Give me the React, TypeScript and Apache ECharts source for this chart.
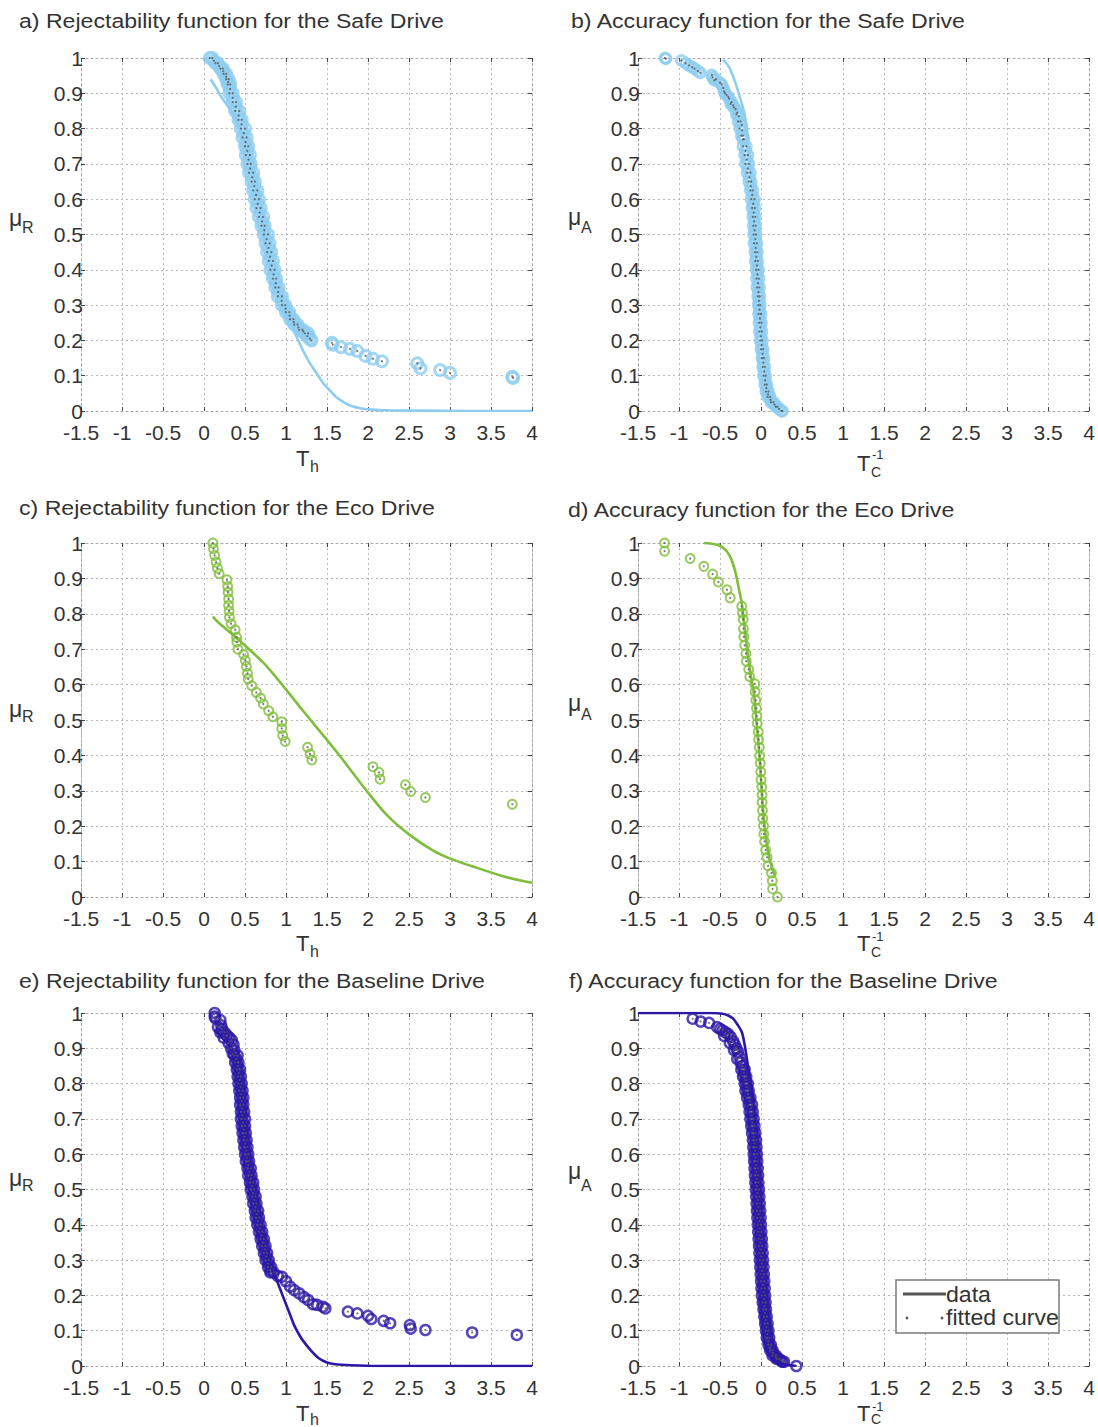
import React, { useEffect, useRef } from "react";
import * as echarts from "echarts";

// ---- axis ranges (shared by every panel) ----
const X_MIN = -1.5;
const X_MAX = 4;
const X_STEP = 0.5;
const Y_MIN = 0;
const Y_MAX = 1;
const Y_STEP = 0.1;

// ---- panel titles ----
const panelTitles = [
  "a) Rejectability function for the Safe Drive",
  "b) Accuracy function for the Safe Drive",
  "c) Rejectability function for the Eco Drive",
  "d) Accuracy function for the Eco Drive",
  "e) Rejectability function for the Baseline Drive",
  "f) Accuracy function for the Baseline Drive",
];

const legendLabels = ["data", "fitted curve"];

// ---- Safe Drive ----
const safeRejectPoints: number[][] = [
  [0.07, 1.0], [0.1, 1.0], [0.14, 0.985], [0.17, 0.985], [0.2, 0.97], [0.23, 0.97],
  [0.24, 0.955], [0.27, 0.955], [0.27, 0.94], [0.3, 0.94], [0.29, 0.925], [0.32, 0.925],
  [0.31, 0.9], [0.35, 0.9], [0.35, 0.875], [0.39, 0.875], [0.38, 0.85], [0.43, 0.85],
  [0.42, 0.825], [0.46, 0.825], [0.45, 0.8], [0.5, 0.8], [0.47, 0.775], [0.52, 0.775],
  [0.5, 0.75], [0.54, 0.75], [0.51, 0.725], [0.56, 0.725], [0.53, 0.7], [0.57, 0.7],
  [0.55, 0.675], [0.6, 0.675], [0.58, 0.65], [0.62, 0.65], [0.6, 0.625], [0.65, 0.625],
  [0.62, 0.6], [0.67, 0.6], [0.64, 0.575], [0.69, 0.575], [0.67, 0.55], [0.72, 0.55],
  [0.7, 0.525], [0.74, 0.525], [0.73, 0.5], [0.78, 0.5], [0.75, 0.475], [0.8, 0.475],
  [0.77, 0.45], [0.82, 0.45], [0.79, 0.425], [0.84, 0.425], [0.81, 0.4], [0.86, 0.4],
  [0.84, 0.375], [0.88, 0.375], [0.87, 0.35], [0.91, 0.35], [0.9, 0.325], [0.95, 0.325],
  [0.95, 0.3], [0.99, 0.3], [1.0, 0.28], [1.04, 0.28], [1.05, 0.26], [1.09, 0.26],
  [1.1, 0.245], [1.14, 0.245], [1.16, 0.23], [1.2, 0.23], [1.23, 0.22], [1.27, 0.22],
  [1.29, 0.205], [1.31, 0.2],
  [0.12, 0.992], [0.185, 0.977], [0.235, 0.962], [0.27, 0.947], [0.295, 0.932], [0.318, 0.912],
  [0.35, 0.887], [0.388, 0.862], [0.423, 0.837], [0.458, 0.812], [0.485, 0.787], [0.507, 0.762],
  [0.527, 0.737], [0.543, 0.712], [0.563, 0.687], [0.588, 0.662], [0.612, 0.637], [0.635, 0.612],
  [0.655, 0.587], [0.68, 0.562], [0.708, 0.537], [0.735, 0.512], [0.765, 0.487], [0.785, 0.462],
  [0.805, 0.437], [0.825, 0.412], [0.848, 0.387], [0.875, 0.362], [0.905, 0.337], [0.948, 0.312],
  [0.995, 0.29], [1.045, 0.27], [1.095, 0.252], [1.15, 0.237], [1.21, 0.225], [1.26, 0.212],
  [1.56, 0.193], [1.57, 0.188], [1.67, 0.181], [1.78, 0.176], [1.87, 0.17], [1.97, 0.156],
  [2.06, 0.148], [2.17, 0.141], [2.6, 0.135], [2.64, 0.121], [2.88, 0.116], [3.0, 0.108],
  [3.76, 0.097], [3.77, 0.094],
];
const safeRejectCurve: number[][] = [
  [0.08, 0.94], [0.15, 0.915], [0.21, 0.89], [0.3, 0.86], [0.4, 0.82], [0.5, 0.76],
  [0.6, 0.66], [0.7, 0.55], [0.8, 0.43], [0.9, 0.34], [1.0, 0.28], [1.07, 0.25],
  [1.13, 0.21], [1.2, 0.175], [1.28, 0.14], [1.37, 0.108], [1.45, 0.08], [1.54, 0.057],
  [1.62, 0.038], [1.71, 0.024], [1.8, 0.014], [1.92, 0.007], [2.05, 0.004], [2.2, 0.002],
  [2.6, 0.001], [3.2, 0], [4.0, 0],
];
const safeAccuracyPoints: number[][] = [
  [-1.17, 1.0], [-1.16, 0.998], [-0.97, 0.993], [-0.92, 0.985], [-0.88, 0.979], [-0.84, 0.974],
  [-0.81, 0.97], [-0.77, 0.963], [-0.74, 0.958], [-0.6, 0.952], [-0.59, 0.945], [-0.57, 0.937],
  [-0.55, 0.94], [-0.5, 0.93], [-0.44, 0.9], [-0.4, 0.89], [-0.37, 0.87], [-0.33, 0.86],
  [-0.3, 0.84], [-0.28, 0.82], [-0.26, 0.8], [-0.24, 0.78], [-0.22, 0.77],
  [-0.48, 0.925], [-0.46, 0.915], [-0.45, 0.905], [-0.42, 0.895], [-0.39, 0.885], [-0.36, 0.875],
  [-0.34, 0.866], [-0.31, 0.855], [-0.29, 0.845], [-0.27, 0.835], [-0.25, 0.82], [-0.235, 0.81],
  [-0.23, 0.795], [-0.22, 0.78], [-0.21, 0.77],
  [-0.22, 0.75], [-0.18, 0.75], [-0.2, 0.725], [-0.16, 0.725], [-0.19, 0.7], [-0.15, 0.7],
  [-0.17, 0.675], [-0.13, 0.675], [-0.15, 0.65], [-0.12, 0.65], [-0.13, 0.625], [-0.1, 0.625],
  [-0.12, 0.6], [-0.08, 0.6], [-0.11, 0.575], [-0.075, 0.575], [-0.1, 0.55], [-0.07, 0.55],
  [-0.095, 0.525], [-0.065, 0.525], [-0.09, 0.5], [-0.06, 0.5], [-0.085, 0.475], [-0.05, 0.475],
  [-0.075, 0.45], [-0.045, 0.45], [-0.07, 0.425], [-0.04, 0.425], [-0.06, 0.4], [-0.03, 0.4],
  [-0.055, 0.375], [-0.025, 0.375], [-0.05, 0.35], [-0.02, 0.35], [-0.04, 0.325], [-0.015, 0.325],
  [-0.035, 0.3], [-0.01, 0.3], [-0.03, 0.275], [0.0, 0.275], [-0.025, 0.25], [0.005, 0.25],
  [-0.02, 0.225], [0.01, 0.225], [-0.01, 0.2], [0.015, 0.2], [0.0, 0.175], [0.025, 0.175],
  [0.01, 0.15], [0.035, 0.15], [0.02, 0.125], [0.045, 0.125], [0.03, 0.1], [0.055, 0.1],
  [0.045, 0.075], [0.07, 0.075], [0.06, 0.055], [0.09, 0.055], [0.08, 0.04], [0.11, 0.04],
  [0.12, 0.025], [0.15, 0.025], [0.18, 0.012], [0.2, 0.012], [0.25, 0.0], [0.26, 0.0],
  [-0.19, 0.737], [-0.175, 0.712], [-0.16, 0.687], [-0.142, 0.662], [-0.125, 0.637], [-0.108, 0.612],
  [-0.096, 0.587], [-0.089, 0.562], [-0.083, 0.537], [-0.078, 0.512], [-0.071, 0.487], [-0.064, 0.462],
  [-0.058, 0.437], [-0.05, 0.412], [-0.043, 0.387], [-0.038, 0.362], [-0.031, 0.337], [-0.025, 0.312],
  [-0.019, 0.287], [-0.013, 0.262], [-0.008, 0.237], [-0.001, 0.212], [0.008, 0.187], [0.018, 0.162],
  [0.028, 0.137], [0.038, 0.112], [0.05, 0.087], [0.066, 0.065], [0.085, 0.047], [0.115, 0.032],
  [0.165, 0.018], [0.22, 0.006],
];
const safeAccuracyCurve: number[][] = [
  [-0.47, 0.995], [-0.44, 0.99], [-0.38, 0.97], [-0.32, 0.935], [-0.26, 0.89], [-0.2, 0.84],
  [-0.16, 0.76], [-0.12, 0.66], [-0.09, 0.55], [-0.06, 0.44], [-0.03, 0.33], [0.0, 0.24],
  [0.03, 0.15], [0.06, 0.09], [0.1, 0.05], [0.15, 0.025], [0.2, 0.008], [0.25, 0],
];

// ---- Eco Drive ----
const ecoRejectPoints: number[][] = [
  [0.108, 1.0], [0.116, 0.984], [0.13, 0.965], [0.147, 0.946], [0.164, 0.929], [0.185, 0.913],
  [0.28, 0.896], [0.289, 0.877], [0.293, 0.861], [0.3, 0.842], [0.3, 0.824], [0.306, 0.808],
  [0.31, 0.79], [0.33, 0.772], [0.38, 0.755], [0.397, 0.734], [0.4, 0.72], [0.414, 0.7],
  [0.483, 0.685], [0.504, 0.668], [0.517, 0.651], [0.53, 0.632], [0.539, 0.616], [0.582, 0.597],
  [0.638, 0.578], [0.69, 0.562], [0.724, 0.545], [0.789, 0.526], [0.84, 0.509], [0.948, 0.495],
  [0.948, 0.476], [0.96, 0.456], [0.99, 0.439], [1.263, 0.423], [1.293, 0.404], [1.315, 0.387],
  [2.06, 0.368], [2.134, 0.352], [2.147, 0.333], [2.457, 0.317], [2.52, 0.298], [2.7, 0.281],
  [3.76, 0.262],
];
const ecoRejectCurve: number[][] = [
  [0.108, 0.792], [0.172, 0.776], [0.43, 0.725], [0.776, 0.649], [1.207, 0.526], [1.638, 0.404],
  [1.983, 0.3], [2.24, 0.229], [2.5, 0.177], [2.8, 0.13], [3.017, 0.107], [3.32, 0.083],
  [3.7, 0.055], [4.0, 0.04],
];
const ecoAccuracyPoints: number[][] = [
  [-1.176, 1.0], [-1.176, 0.977], [-0.864, 0.956], [-0.697, 0.934], [-0.59, 0.912], [-0.52, 0.89],
  [-0.415, 0.868], [-0.376, 0.845], [-0.235, 0.821], [-0.227, 0.802], [-0.218, 0.784], [-0.214, 0.758],
  [-0.21, 0.735], [-0.2, 0.711], [-0.184, 0.688], [-0.18, 0.666], [-0.15, 0.643], [-0.137, 0.622],
  [-0.077, 0.602], [-0.073, 0.58], [-0.064, 0.556], [-0.056, 0.533], [-0.051, 0.511], [-0.047, 0.49],
  [-0.034, 0.467], [-0.03, 0.445], [-0.021, 0.422], [-0.017, 0.399], [-0.009, 0.378], [-0.004, 0.354],
  [0.0, 0.331], [0.009, 0.31], [0.013, 0.289], [0.013, 0.267], [0.017, 0.244], [0.021, 0.222],
  [0.03, 0.201], [0.034, 0.178], [0.043, 0.157], [0.056, 0.133], [0.073, 0.112], [0.086, 0.088],
  [0.128, 0.068], [0.137, 0.046], [0.141, 0.023], [0.2, 0.0],
];
const ecoAccuracyCurve: number[][] = [
  [-0.7, 1.0], [-0.6, 0.998], [-0.51, 0.993], [-0.44, 0.982], [-0.385, 0.965], [-0.34, 0.94],
  [-0.3, 0.905], [-0.27, 0.87], [-0.235, 0.83], [-0.2, 0.76], [-0.16, 0.68], [-0.12, 0.62],
  [-0.085, 0.57], [-0.05, 0.48], [-0.02, 0.4], [0.0, 0.331], [0.02, 0.26], [0.043, 0.2],
  [0.07, 0.15], [0.1, 0.11], [0.13, 0.085], [0.17, 0.06],
];

// ---- Baseline Drive ----
const baselineRejectPoints: number[][] = [
  [0.13, 1.0], [0.13, 0.99], [0.14, 0.985], [0.2, 0.98], [0.21, 0.965], [0.22, 0.955],
  [0.25, 0.945], [0.28, 0.937], [0.31, 0.93], [0.34, 0.923], [0.36, 0.91], [0.37, 0.895],
  [0.17, 0.96], [0.2, 0.945], [0.24, 0.93], [0.3, 0.915], [0.33, 0.9], [0.35, 0.885],
  [0.37, 0.88], [0.41, 0.88], [0.38, 0.86], [0.42, 0.86], [0.4, 0.84], [0.44, 0.84],
  [0.41, 0.82], [0.45, 0.82], [0.42, 0.8], [0.46, 0.8], [0.43, 0.78], [0.47, 0.78],
  [0.44, 0.76], [0.48, 0.76], [0.44, 0.74], [0.48, 0.74], [0.45, 0.72], [0.49, 0.72],
  [0.45, 0.7], [0.5, 0.7], [0.46, 0.68], [0.5, 0.68], [0.47, 0.66], [0.51, 0.66],
  [0.48, 0.64], [0.52, 0.64], [0.49, 0.62], [0.53, 0.62], [0.5, 0.6], [0.54, 0.6],
  [0.51, 0.58], [0.55, 0.58], [0.53, 0.56], [0.57, 0.56], [0.54, 0.54], [0.58, 0.54],
  [0.56, 0.52], [0.6, 0.52], [0.57, 0.5], [0.61, 0.5], [0.59, 0.48], [0.63, 0.48],
  [0.6, 0.46], [0.64, 0.46], [0.62, 0.44], [0.66, 0.44], [0.63, 0.42], [0.67, 0.42],
  [0.65, 0.4], [0.69, 0.4], [0.67, 0.38], [0.71, 0.38], [0.69, 0.36], [0.73, 0.36],
  [0.71, 0.34], [0.75, 0.34], [0.73, 0.32], [0.77, 0.32], [0.75, 0.3], [0.79, 0.3],
  [0.78, 0.28], [0.82, 0.28], [0.81, 0.265], [0.85, 0.265],
  [0.395, 0.87], [0.41, 0.85], [0.425, 0.83], [0.435, 0.81], [0.445, 0.79], [0.455, 0.77],
  [0.46, 0.75], [0.465, 0.73], [0.47, 0.71], [0.477, 0.69], [0.485, 0.67], [0.495, 0.65],
  [0.505, 0.63], [0.515, 0.61], [0.525, 0.59], [0.54, 0.57], [0.555, 0.55], [0.57, 0.53],
  [0.585, 0.51], [0.6, 0.49], [0.615, 0.47], [0.63, 0.45], [0.645, 0.43], [0.66, 0.41],
  [0.68, 0.39], [0.7, 0.37], [0.72, 0.35], [0.74, 0.33], [0.76, 0.31], [0.785, 0.29],
  [0.81, 0.272],
  [0.9, 0.255], [0.95, 0.253], [1.0, 0.24], [1.05, 0.225], [1.1, 0.215], [1.16, 0.206],
  [1.22, 0.195], [1.27, 0.187], [1.33, 0.175], [1.38, 0.173], [1.45, 0.168], [1.48, 0.163],
  [1.755, 0.154], [1.87, 0.149], [2.0, 0.142], [2.04, 0.133], [2.19, 0.128], [2.27, 0.121],
  [2.51, 0.116], [2.52, 0.106], [2.7, 0.102], [3.27, 0.095], [3.815, 0.088],
];
const baselineRejectCurve: number[][] = [
  [0.13, 0.951], [0.2, 0.935], [0.28, 0.915], [0.35, 0.89], [0.4, 0.85], [0.45, 0.78],
  [0.5, 0.66], [0.55, 0.57], [0.6, 0.5], [0.65, 0.43], [0.7, 0.37], [0.75, 0.32],
  [0.8, 0.285], [0.85, 0.26], [0.9, 0.235], [0.95, 0.205], [1.0, 0.175], [1.05, 0.145],
  [1.1, 0.115], [1.15, 0.093], [1.2, 0.074], [1.3, 0.045], [1.4, 0.022], [1.5, 0.01],
  [1.6, 0.005], [1.8, 0.002], [2.1, 0], [4.0, 0],
];
const baselineAccuracyPoints: number[][] = [
  [-0.834, 0.984], [-0.736, 0.976], [-0.633, 0.972], [-0.535, 0.96], [-0.5, 0.955], [-0.47, 0.951],
  [-0.43, 0.945], [-0.4, 0.94], [-0.37, 0.932], [-0.34, 0.92], [-0.32, 0.91], [-0.3, 0.9],
  [-0.28, 0.89], [-0.26, 0.875], [-0.25, 0.86], [-0.23, 0.85],
  [-0.45, 0.935], [-0.38, 0.915], [-0.33, 0.895], [-0.29, 0.87],
  [-0.24, 0.84], [-0.2, 0.84], [-0.22, 0.82], [-0.18, 0.82], [-0.2, 0.8], [-0.16, 0.8],
  [-0.19, 0.78], [-0.15, 0.78], [-0.17, 0.76], [-0.13, 0.76], [-0.15, 0.74], [-0.11, 0.74],
  [-0.14, 0.72], [-0.1, 0.72], [-0.13, 0.7], [-0.09, 0.7], [-0.12, 0.68], [-0.08, 0.68],
  [-0.11, 0.66], [-0.07, 0.66], [-0.1, 0.64], [-0.06, 0.64], [-0.095, 0.62], [-0.055, 0.62],
  [-0.09, 0.6], [-0.05, 0.6], [-0.085, 0.58], [-0.045, 0.58], [-0.08, 0.56], [-0.04, 0.56],
  [-0.075, 0.54], [-0.035, 0.54], [-0.07, 0.52], [-0.03, 0.52], [-0.065, 0.5], [-0.025, 0.5],
  [-0.06, 0.48], [-0.02, 0.48], [-0.055, 0.46], [-0.015, 0.46], [-0.05, 0.44], [-0.01, 0.44],
  [-0.045, 0.42], [-0.005, 0.42], [-0.04, 0.4], [0.0, 0.4], [-0.035, 0.38], [0.005, 0.38],
  [-0.03, 0.36], [0.01, 0.36], [-0.025, 0.34], [0.015, 0.34], [-0.02, 0.32], [0.02, 0.32],
  [-0.015, 0.3], [0.025, 0.3], [-0.01, 0.28], [0.03, 0.28], [-0.005, 0.26], [0.035, 0.26],
  [0.0, 0.24], [0.04, 0.24], [0.005, 0.22], [0.045, 0.22], [0.01, 0.2], [0.05, 0.2],
  [0.02, 0.18], [0.055, 0.18], [0.03, 0.16], [0.06, 0.16], [0.04, 0.14], [0.07, 0.14],
  [0.05, 0.12], [0.08, 0.12], [0.06, 0.1], [0.09, 0.1], [0.07, 0.08], [0.1, 0.08],
  [0.09, 0.06], [0.12, 0.06], [0.11, 0.045], [0.14, 0.045], [0.14, 0.03], [0.18, 0.03],
  [0.19, 0.02], [0.22, 0.02], [0.26, 0.012], [0.28, 0.012], [0.43, 0.0],
  [-0.21, 0.83], [-0.19, 0.81], [-0.175, 0.79], [-0.16, 0.77], [-0.14, 0.75], [-0.125, 0.73],
  [-0.115, 0.71], [-0.105, 0.69], [-0.095, 0.67], [-0.085, 0.65], [-0.078, 0.63], [-0.073, 0.61],
  [-0.068, 0.59], [-0.063, 0.57], [-0.058, 0.55], [-0.053, 0.53], [-0.048, 0.51], [-0.043, 0.49],
  [-0.038, 0.47], [-0.033, 0.45], [-0.028, 0.43], [-0.023, 0.41], [-0.018, 0.39], [-0.013, 0.37],
  [-0.008, 0.35], [-0.003, 0.33], [0.002, 0.31], [0.007, 0.29], [0.012, 0.27], [0.017, 0.25],
  [0.022, 0.23], [0.027, 0.21], [0.034, 0.19], [0.041, 0.17], [0.048, 0.15], [0.057, 0.13],
  [0.067, 0.11], [0.077, 0.09], [0.09, 0.07], [0.115, 0.052], [0.145, 0.037], [0.18, 0.025],
  [0.24, 0.016],
];
const baselineAccuracyCurve: number[][] = [
  [-1.5, 1.0], [-0.6, 1.0], [-0.47, 0.998], [-0.4, 0.993], [-0.34, 0.984], [-0.29, 0.968],
  [-0.235, 0.946], [-0.2, 0.91], [-0.17, 0.866], [-0.14, 0.82], [-0.107, 0.772], [-0.085, 0.7],
  [-0.064, 0.63], [-0.045, 0.55], [-0.034, 0.49], [-0.02, 0.4], [0.0, 0.3], [0.02, 0.22],
  [0.043, 0.16], [0.07, 0.11], [0.107, 0.066], [0.15, 0.035], [0.19, 0.019], [0.25, 0.008],
  [0.3, 0.004], [0.43, 0.0],
];

// ---- appearance ----
const SAFE_COLOR = "#8fcdf0";
const ECO_COLOR = "#7fbd3a";
const BASE_COLOR = "#2b18a8";
const FONT = "'Liberation Sans', Arial, sans-serif";
const TEXT_COLOR = "#333333";

// grid boxes: two columns, three rows
const COL_LEFT = [81, 638];
const COL_WIDTH = [451, 453];
const ROW_TOP = [58, 543, 1013];
const ROW_HEIGHT = [353, 354, 353];

// ring marker size / stroke per panel
const RING_SIZE = [11, 10, 9, 9, 10, 10];
const RING_STROKE = [3, 2.8, 2, 2, 2.5, 2.5];

const panels = [
  { points: safeRejectPoints, curve: safeRejectCurve, color: SAFE_COLOR },
  { points: safeAccuracyPoints, curve: safeAccuracyCurve, color: SAFE_COLOR },
  { points: ecoRejectPoints, curve: ecoRejectCurve, color: ECO_COLOR },
  { points: ecoAccuracyPoints, curve: ecoAccuracyCurve, color: ECO_COLOR },
  { points: baselineRejectPoints, curve: baselineRejectCurve, color: BASE_COLOR },
  { points: baselineAccuracyPoints, curve: baselineAccuracyCurve, color: BASE_COLOR },
];

// title anchor points and axis-name anchor points
const titlePos = [[19, 21], [571, 21], [19, 508], [568, 510], [19, 981], [569, 981]];
// [muY, subY, tY, tSubY, supY]
const namePos = [
  [218, 227, 458, 466, 0],
  [217, 227, 463, 472, 454],
  [709, 716, 943, 951, 0],
  [703, 714, 943, 952, 936],
  [1178, 1185, 1413, 1419, 0],
  [1171, 1185, 1413, 1419, 1406],
];

const dotted = [2, 3];

function txt(x: number, y: number, text: string, size: number, extra: any = {}) {
  return {
    type: "text",
    x,
    y,
    silent: true,
    ...extra,
    style: {
      text,
      fontSize: size,
      fontFamily: FONT,
      fill: TEXT_COLOR,
      align: "left",
      verticalAlign: "middle",
    },
  };
}

function buildOption() {
  const grid: any[] = [];
  const xAxis: any[] = [];
  const yAxis: any[] = [];
  const series: any[] = [];
  const graphic: any[] = [];

  panels.forEach((p, i) => {
    const col = i % 2;
    const row = Math.floor(i / 2);
    grid.push({
      left: COL_LEFT[col],
      top: ROW_TOP[row],
      width: COL_WIDTH[col],
      height: ROW_HEIGHT[row],
      containLabel: false,
    });

    const frameLine = { show: true, onZero: false, lineStyle: { color: "#a8a8a8", width: 1, type: dotted } };
    const innerTick = { show: true, inside: true, length: 4, lineStyle: { color: "#444", width: 1 } };

    xAxis.push({
      type: "value",
      gridIndex: i,
      position: "bottom",
      min: X_MIN,
      max: X_MAX,
      interval: X_STEP,
      axisLine: frameLine,
      axisTick: innerTick,
      axisLabel: {
        fontSize: 21,
        lineHeight: 17,
        fontFamily: FONT,
        color: TEXT_COLOR,
        margin: 13,
        showMinLabel: true,
        showMaxLabel: true,
      },
      splitLine: { show: true, lineStyle: { color: "#b8b8b8", width: 1, type: dotted } },
    });
    xAxis.push({
      type: "value",
      gridIndex: i,
      position: "top",
      min: X_MIN,
      max: X_MAX,
      interval: X_STEP,
      axisLine: frameLine,
      axisTick: innerTick,
      axisLabel: { show: false },
      splitLine: { show: false },
    });
    yAxis.push({
      type: "value",
      gridIndex: i,
      position: "left",
      min: Y_MIN,
      max: Y_MAX,
      interval: Y_STEP,
      axisLine: frameLine,
      axisTick: innerTick,
      axisLabel: {
        fontSize: 21,
        lineHeight: 17,
        fontFamily: FONT,
        color: TEXT_COLOR,
        margin: -2,
        showMinLabel: true,
        showMaxLabel: true,
      },
      splitLine: { show: true, lineStyle: { color: "#b8b8b8", width: 1, type: dotted } },
    });
    yAxis.push({
      type: "value",
      gridIndex: i,
      position: "right",
      min: Y_MIN,
      max: Y_MAX,
      interval: Y_STEP,
      axisLine: frameLine,
      axisTick: innerTick,
      axisLabel: { show: false },
      splitLine: { show: false },
    });

    const xi = i * 2;
    series.push({
      type: "line",
      xAxisIndex: xi,
      yAxisIndex: xi,
      data: p.curve,
      showSymbol: false,
      symbol: "none",
      smooth: 0.3,
      lineStyle: { color: p.color, width: 2.6 },
      z: 2,
      silent: true,
    });
    series.push({
      type: "scatter",
      xAxisIndex: xi,
      yAxisIndex: xi,
      data: p.points,
      symbol: "circle",
      symbolSize: RING_SIZE[i],
      itemStyle: { color: "rgba(255,255,255,0)", borderColor: p.color, borderWidth: RING_STROKE[i] },
      z: 3,
      silent: true,
    });
    series.push({
      type: "scatter",
      xAxisIndex: xi,
      yAxisIndex: xi,
      data: p.points,
      symbol: "circle",
      symbolSize: 2.2,
      itemStyle: { color: "#555555" },
      z: 4,
      silent: true,
    });

    // panel title
    graphic.push(txt(titlePos[i][0], titlePos[i][1], panelTitles[i], 21, { scaleX: 1.1 }));

    // axis names
    const np = namePos[i];
    if (col === 0) {
      graphic.push(txt(9, np[0], "μ", 23));
      graphic.push(txt(22, np[1], "R", 16));
      graphic.push(txt(296, np[2], "T", 22));
      graphic.push(txt(310, np[3], "h", 16));
    } else {
      graphic.push(txt(568, np[0], "μ", 23));
      graphic.push(txt(581, np[1], "A", 16));
      graphic.push(txt(857, np[2], "T", 22));
      graphic.push(txt(871, np[3], "C", 14));
      graphic.push(txt(872, np[4], "-1", 13));
    }
  });

  // legend box in the last panel
  graphic.push({
    type: "rect",
    silent: true,
    shape: { x: 896, y: 1280, width: 163, height: 53 },
    style: { fill: "#ffffff", stroke: "#7a7a7a", lineWidth: 1.5 },
    z: 100,
  });
  graphic.push({
    type: "line",
    silent: true,
    shape: { x1: 903, y1: 1294, x2: 946, y2: 1294 },
    style: { stroke: "#555555", lineWidth: 3 },
    z: 101,
  });
  graphic.push({ type: "circle", silent: true, shape: { cx: 907, cy: 1318, r: 1.4 }, style: { fill: "#555555" }, z: 101 });
  graphic.push({ type: "circle", silent: true, shape: { cx: 942, cy: 1318, r: 1.4 }, style: { fill: "#555555" }, z: 101 });
  graphic.push({ ...txt(946, 1295, legendLabels[0], 22, { scaleX: 1.05 }), z: 101 });
  graphic.push({ ...txt(946, 1318, legendLabels[1], 22, { scaleX: 1.05 }), z: 101 });

  return {
    animation: false,
    backgroundColor: "#ffffff",
    grid,
    xAxis,
    yAxis,
    series,
    graphic,
  };
}

export default function App() {
  const ref = useRef<HTMLDivElement>(null);
  useEffect(() => {
    document.body.style.margin = "0";
    const chart = echarts.init(ref.current as HTMLDivElement, undefined, { renderer: "svg" });
    chart.setOption(buildOption() as any);
    return () => chart.dispose();
  }, []);
  return <div ref={ref} style={{ width: 1098, height: 1427 }} />;
}
